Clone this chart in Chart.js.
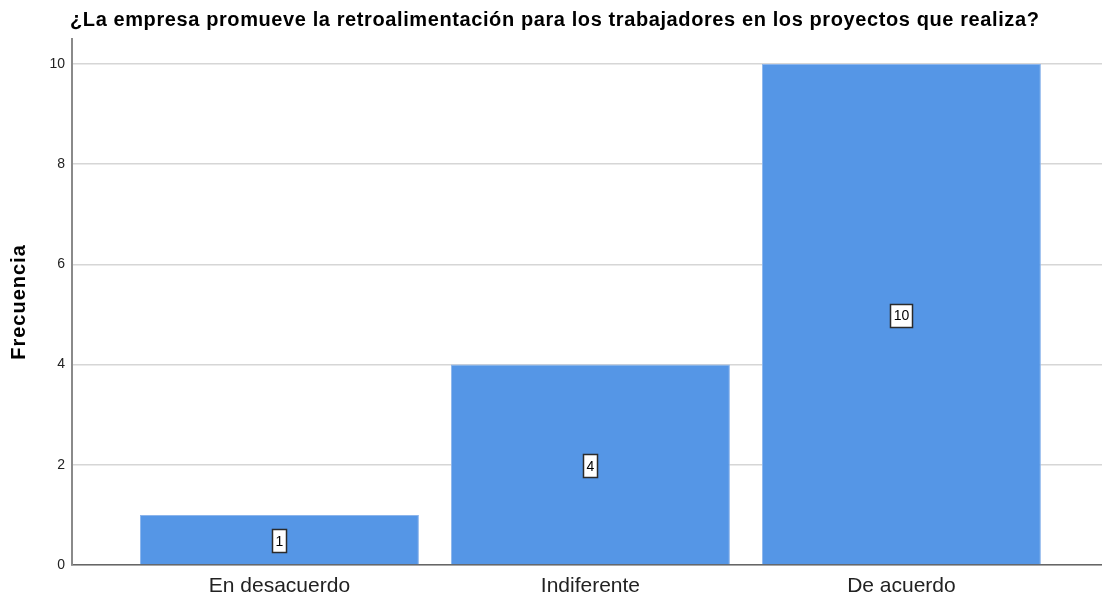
<!DOCTYPE html>
<html>
<head>
<meta charset="utf-8">
<script src="https://cdn.jsdelivr.net/npm/chart.js@4.4.0/dist/chart.umd.min.js"></script>
<style>
  html, body { margin: 0; padding: 0; background: #ffffff; }
  #wrap { width: 1102px; height: 601px; }
</style>
</head>
<body>
<div id="wrap"><canvas id="c" width="1102" height="601"></canvas></div>
<script>
const chartTitle = "¿La empresa promueve la retroalimentación para los trabajadores en los proyectos que realiza?";
const categories = ["En desacuerdo", "Indiferente", "De acuerdo"];
const frequencies = [1, 4, 10];
const yTicks = [0, 2, 4, 6, 8, 10];
const yAxisTitle = "Frecuencia";

const FONT = '"Liberation Sans", Arial, sans-serif';

// Slightly wider letter spacing for the chart title and the y-axis title, as in the reference
const spacingPlugin = {
  id: 'spacing',
  afterLayout(chart) {
    const tb = chart.titleBlock;
    if (tb && !tb._wrapped) {
      const orig = tb.draw;
      tb.draw = function (...args) {
        const ctx = chart.ctx;
        ctx.save();
        ctx.translate(-2, 1);
        ctx.letterSpacing = '0.6px';
        orig.apply(this, args);
        ctx.restore();
      };
      tb._wrapped = true;
    }
    const ys = chart.scales.y;
    if (ys && !ys._wrapped) {
      const origT = ys.drawTitle;
      ys.drawTitle = function (...args) {
        const ctx = chart.ctx;
        ctx.save();
        ctx.letterSpacing = '1px';
        origT.apply(this, args);
        ctx.restore();
      };
      ys._wrapped = true;
    }
  }
};

const valueLabels = {
  id: 'valueLabels',
  afterDatasetsDraw(chart) {
    const ctx = chart.ctx;
    const meta = chart.getDatasetMeta(0);
    const yScale = chart.scales.y;
    ctx.save();
    ctx.font = '14px ' + FONT;
    ctx.textAlign = 'center';
    ctx.textBaseline = 'middle';
    meta.data.forEach((el, i) => {
      const v = frequencies[i];
      const txt = String(v);
      const cx = el.x;
      const cy = yScale.getPixelForValue(v / 2) + 1;
      const w = Math.round(ctx.measureText(txt).width + 6);
      const h = 23;
      const bx = Math.round(cx - w / 2) + 0.5, by = Math.round(cy - h / 2) + 0.5;
      ctx.fillStyle = '#ffffff';
      ctx.fillRect(bx, by, w, h);
      ctx.strokeStyle = '#2b2b2b';
      ctx.lineWidth = 1.5;
      ctx.strokeRect(bx, by, w, h);
      ctx.fillStyle = '#000000';
      ctx.fillText(txt, cx, cy + 1);
    });
    ctx.restore();
  }
};

new Chart(document.getElementById('c'), {
  type: 'bar',
  data: {
    datasets: [{
      data: frequencies.map((v, i) => ({ x: i, y: v })),
      backgroundColor: '#5596e6',
      borderColor: '#8cb5ec',
      borderWidth: 1,
      barPercentage: 0.897,
      categoryPercentage: 1.0
    }]
  },
  options: {
    responsive: false,
    animation: false,
    layout: { padding: { left: 0, right: 0, top: 0, bottom: 0 } },
    plugins: {
      legend: { display: false },
      tooltip: { enabled: false },
      title: {
        display: true,
        text: chartTitle,
        align: 'start',
        fullSize: false,
        color: '#000000',
        font: { family: FONT, size: 20, weight: 'bold' },
        padding: { top: 7, bottom: 8 }
      }
    },
    scales: {
      x: {
        type: 'linear',
        offset: false,
        min: -0.667,
        max: 2.645,
        afterBuildTicks(scale) { scale.ticks = categories.map((_, i) => ({ value: i })); },
        afterFit(scale) { scale.height = 36; },
        ticks: {
          callback: (v) => categories[v] !== undefined ? categories[v] : '',
          color: '#222222',
          font: { family: FONT, size: 21 },
          padding: 9,
          maxRotation: 0,
          autoSkip: false
        },
        grid: { display: false, drawTicks: false },
        border: { display: true, color: '#666666', width: 1.5 }
      },
      y: {
        min: 0,
        max: 10.5,
        afterBuildTicks(scale) { scale.ticks = yTicks.map(v => ({ value: v })); },
        afterFit(scale) { scale.width = 72; },
        title: {
          display: true,
          text: yAxisTitle,
          color: '#000000',
          font: { family: FONT, size: 20, weight: 'bold' },
          padding: { top: 7, bottom: 0 }
        },
        ticks: {
          color: '#222222',
          font: { family: FONT, size: 14 },
          padding: 7
        },
        grid: { color: '#d6d6d6', lineWidth: 1.5, drawTicks: false },
        border: { display: true, color: '#8a8a8a', width: 2 }
      }
    }
  },
  plugins: [spacingPlugin, valueLabels]
});
</script>
</body>
</html>
